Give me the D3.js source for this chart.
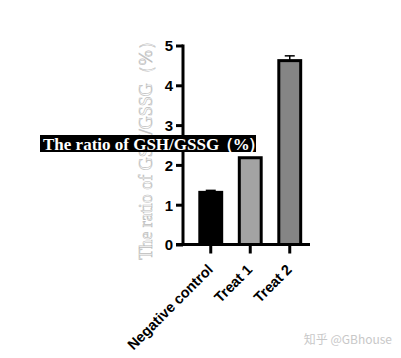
<!DOCTYPE html>
<html lang="en">
<head>
<meta charset="UTF-8">
<title>GSH/GSSG ratio</title>
<script src="https://d3js.org/d3.v7.min.js"></script>
<style>
  body { margin: 0; background: #fff; }
  svg { display: block; }
</style>
</head>
<body>
<svg width="401" height="358"></svg>
<script>
// data
const groups = ["Negative control", "Treat 1", "Treat 2"];
const means = [1.31, 2.18, 4.62];
const errors = [0.05, 0, 0.12];
const fills = ["#000000", "#a3a3a3", "#858585"];
const yTicks = [0, 1, 2, 3, 4, 5];
const labelMain = "The ratio of GSH/GSSG";
const labelUnit = "（%）";

const svg = d3.select("svg");

const y = d3.scaleLinear().domain([0, 5]).range([244.5, 45.5]);
const x = d3.scaleBand().domain(groups).range([191, 309.5])
    .paddingInner(0.37).paddingOuter(0.185);
const axisX = 183;

// faint outlined y label (sits under the black box, as in the original)
svg.append("text")
    .attr("transform", `translate(152,${(y(0) + y(5)) / 2 + 1}) rotate(-90)`)
    .attr("text-anchor", "middle")
    .attr("font-family", "Liberation Serif, serif")
    .attr("font-size", 18)
    .attr("fill", "#fff")
    .attr("stroke", "#bcbcbc")
    .attr("stroke-width", 0.6)
    .text(labelMain + labelUnit);

// bars
svg.selectAll("rect.bar").data(groups).enter().append("rect")
    .attr("class", "bar")
    .attr("x", d => x(d) + 1.5)
    .attr("y", (d, i) => y(means[i]))
    .attr("width", x.bandwidth() - 3)
    .attr("height", (d, i) => y(0) - y(means[i]))
    .attr("fill", (d, i) => fills[i])
    .attr("stroke", "#000")
    .attr("stroke-width", 3);

// error bars
groups.forEach((g, i) => {
    if (!errors[i]) return;
    const cx = x(g) + x.bandwidth() / 2;
    svg.append("line")
        .attr("x1", cx).attr("x2", cx)
        .attr("y1", y(means[i])).attr("y2", y(means[i] + errors[i]))
        .attr("stroke", "#000").attr("stroke-width", 1.5);
    svg.append("line")
        .attr("x1", cx - 5).attr("x2", cx + 5)
        .attr("y1", y(means[i] + errors[i])).attr("y2", y(means[i] + errors[i]))
        .attr("stroke", "#000").attr("stroke-width", 1.5);
});

// y axis
const yAxis = svg.append("g")
    .attr("transform", `translate(${axisX},0)`)
    .call(d3.axisLeft(y).tickValues(yTicks).tickFormat(d3.format("d")).tickSize(7).tickPadding(3));
yAxis.select(".domain").attr("stroke-width", 3).attr("d", `M0,${y(0)}V${y(5) - 1}`);
yAxis.selectAll(".tick line").attr("stroke-width", 3);
yAxis.selectAll(".tick text")
    .attr("font-family", "Liberation Sans, Arial, sans-serif")
    .attr("font-weight", "bold")
    .attr("font-size", 15)
    .attr("dy", "0.36em")
    .attr("fill", "#000");

// x axis
const xAxis = svg.append("g")
    .attr("transform", `translate(0,${y(0)})`)
    .call(d3.axisBottom(x).tickSize(9).tickPadding(4));
xAxis.select(".domain").attr("stroke-width", 3).attr("d", `M${axisX - 7},0H310`);
xAxis.selectAll(".tick line").attr("stroke-width", 3);
xAxis.selectAll(".tick text")
    .attr("font-family", "Liberation Sans, Arial, sans-serif")
    .attr("font-weight", "bold")
    .attr("font-size", 14.5)
    .attr("fill", "#000")
    .attr("text-anchor", "end")
    .attr("dy", 0)
    .attr("transform", "translate(3,26) rotate(-45)")
    .attr("y", 0)
    .attr("x", 0);

// black label box over the chart
const box = svg.append("g");
box.append("rect")
    .attr("x", 40).attr("y", 135)
    .attr("width", 216).attr("height", 17)
    .attr("fill", "#000");
const boxText = box.append("text")
    .attr("x", 43).attr("y", 149.5)
    .attr("font-family", "Liberation Serif, serif")
    .attr("font-weight", "bold")
    .attr("font-size", 17)
    .attr("fill", "#fff");
boxText.append("tspan").text(labelMain);
boxText.append("tspan").attr("dx", -2).attr("letter-spacing", -1.5).text(labelUnit);

// watermark
svg.append("text")
    .attr("x", 392).attr("y", 344)
    .attr("text-anchor", "end")
    .attr("font-family", "Noto Sans CJK SC, sans-serif")
    .attr("font-size", 12)
    .attr("fill", "#c8c8c8")
    .text("知乎 @GBhouse");
</script>
</body>
</html>
